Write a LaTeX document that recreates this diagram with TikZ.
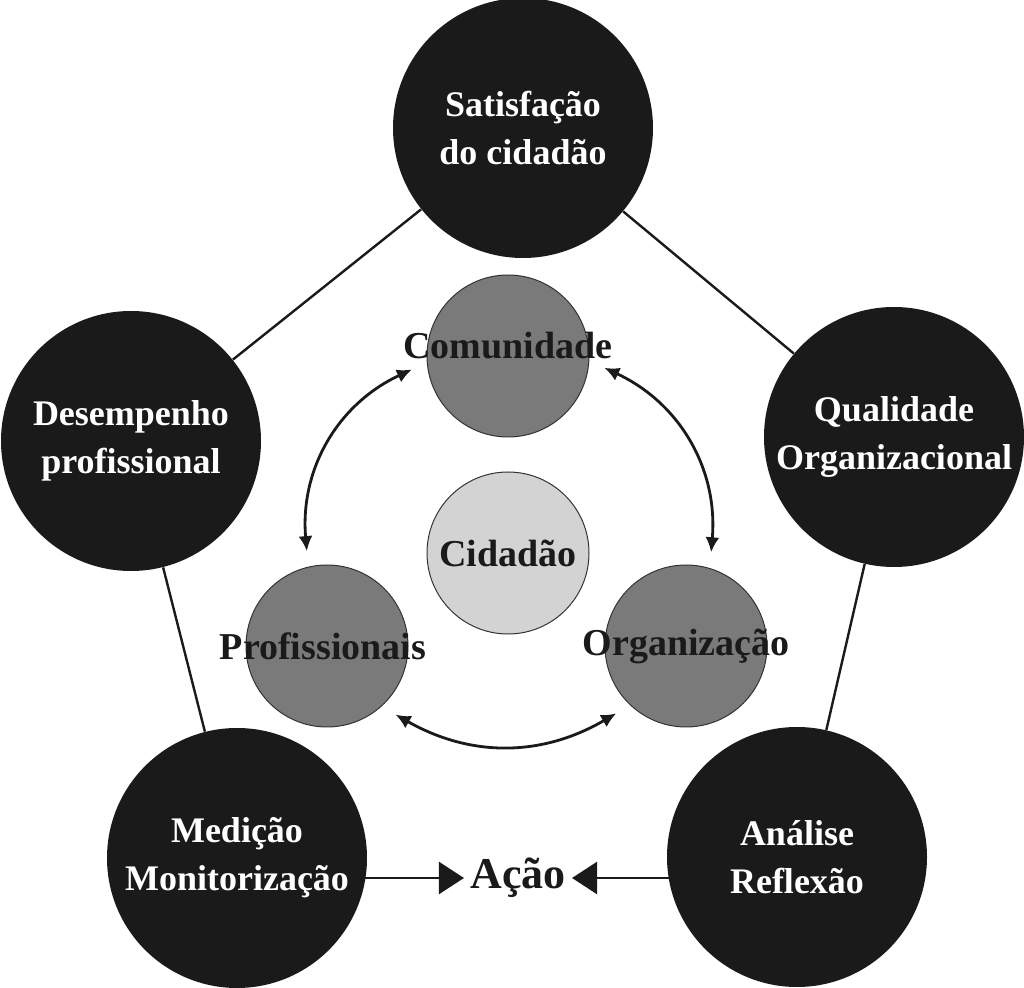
\documentclass[tikz,border=0pt]{standalone}
\usepackage{fontspec}
\setmainfont{Liberation Serif}
\usetikzlibrary{arrows.meta}
\definecolor{darkfill}{HTML}{1A1A1A}
\definecolor{midfill}{HTML}{7A7A7A}
\definecolor{lightfill}{HTML}{D3D3D3}
\definecolor{rimgray}{HTML}{333333}
\begin{document}
\begin{tikzpicture}[x=0.5pt,y=-0.5pt,
    outer/.style={circle,fill=darkfill,text=white,minimum size=130pt,inner sep=0pt,
      align=center,font=\bfseries\fontsize{18}{24}\selectfont},
    inner/.style={circle,draw=rimgray,line width=0.5pt,fill=#1,minimum size=81pt,
      inner sep=0pt,outer sep=8pt},
    tag/.style={text=darkfill,font=\bfseries\fontsize{19}{22}\selectfont},
    link/.style={draw=darkfill,line width=1.2pt},
    swap/.style={draw=darkfill,line width=1.4pt,
      {Latex[length=7.5pt,width=7pt]}-{Latex[length=7.5pt,width=7pt]}},
    push/.style={draw=darkfill,line width=1.2pt,-{Triangle[length=12.5pt,width=16pt]}}]
  \useasboundingbox (0,0) rectangle (1024,988);
  \draw
    (523,128) node[outer] (0){Satisfação\\do cidadão}
    (894,437) node[outer] (1){Qualidade\\Organizacional}
    (797,857) node[outer] (2){Análise\\Reflexão}
    (237,858) node[outer] (3){Medição\\Monitorização}
    (131,441) node[outer] (4){Desempenho\\profissional};
  \draw
    (508,356) node[inner=midfill,label={[tag,yshift=5pt]center:Comunidade}] (c){}
    (508,553) node[inner=lightfill,label={[tag]center:Cidadão}] (z){}
    (327,646) node[inner=midfill,label={[tag,xshift=-2pt]center:Profissionais}] (p){}
    (686,646) node[inner=midfill,label={[tag]center:Organização}] (o){};
  \node[text=darkfill,inner sep=3pt,font=\bfseries\fontsize{22}{26}\selectfont] (act) at (518,878) {Ação};
  \begin{scope}[link]
    \draw (0) -- (1);
    \draw (1) -- (2);
    \draw (3) -- (4);
    \draw (4) -- (0);
  \end{scope}
  \draw[swap] (c.188) to[bend right=35] (p.102);
  \draw[swap] (c.353) to[bend left=35] (o.75);
  \draw[swap] (p.315) to[bend right=30] (o.224);
  \draw[push] ([xshift=-3pt]3.east |- act) -- (act);
  \draw[push] ([xshift=3pt]2.west |- act) -- (act);
\end{tikzpicture}
\end{document}
